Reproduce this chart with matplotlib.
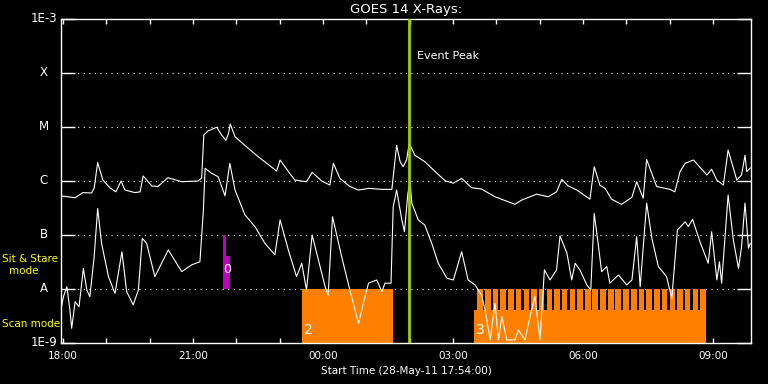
import matplotlib
matplotlib.use('Agg')
import matplotlib.pyplot as plt
import matplotlib.transforms as mtransforms
import numpy as np

# hours since 18:00 on 28-May-11, flux in W/m^2
long_t = [-0.05, 0.28, 0.46, 0.66, 0.72, 0.80, 0.92, 1.09, 1.22, 1.34, 1.43, 1.66, 1.78, 1.85,
          2.05, 2.19, 2.42, 2.74, 3.12, 3.20, 3.25, 3.35, 3.55, 3.66, 3.76, 3.82, 3.86, 3.97,
          4.28, 4.51, 4.70, 4.93, 5.01, 5.20, 5.35, 5.62, 5.75, 5.97, 6.16, 6.24, 6.39, 6.62,
          6.82, 7.05, 7.36, 7.59, 7.70, 7.78, 7.85, 7.93, 7.99, 8.12, 8.35, 8.59, 8.82, 9.01,
          9.20, 9.43, 9.66, 9.97, 10.43, 10.59, 10.93, 11.20, 11.39, 11.51, 11.66, 11.86, 12.16,
          12.26, 12.39, 12.51, 12.66, 12.89, 13.13, 13.24, 13.39, 13.47, 13.70, 14.01, 14.12,
          14.24, 14.36, 14.55, 14.86, 14.97, 15.09, 15.24, 15.35, 15.55, 15.66, 15.74, 15.78, 15.86]
long_f = [5.3e-7, 4.9e-7, 6.1e-7, 6.0e-7, 7.4e-7, 2.2e-6, 1.04e-6, 7.4e-7, 6.3e-7, 1.0e-6, 6.8e-7,
          6.1e-7, 6.3e-7, 1.24e-6, 8.1e-7, 7.9e-7, 1.15e-6, 9.7e-7, 1.0e-6, 1.14e-6, 7.1e-6, 8.5e-6,
          9.9e-6, 7.1e-6, 5.7e-6, 7.6e-6, 1.14e-5, 6.6e-6, 4.0e-6, 2.8e-6, 2.13e-6, 1.53e-6, 2.45e-6,
          1.5e-6, 1.04e-6, 9.7e-7, 1.45e-6, 1.0e-6, 8.4e-7, 2.13e-6, 1.12e-6, 7.9e-7, 6.8e-7, 7.3e-7,
          7.0e-7, 7.0e-7, 4.6e-6, 2.28e-6, 1.84e-6, 2.45e-6, 5.0e-6, 3.0e-6, 2.28e-6, 1.49e-6, 1.01e-6,
          9.1e-7, 1.12e-6, 7.5e-7, 7.1e-7, 5.1e-7, 3.7e-7, 4.45e-7, 5.7e-7, 5.1e-7, 6.3e-7, 1.07e-6,
          8.1e-7, 6.8e-7, 4.6e-7, 1.84e-6, 8.4e-7, 7.3e-7, 4.6e-7, 3.7e-7, 5.0e-7, 9.7e-7, 4.8e-7,
          2.5e-6, 7.9e-7, 7.0e-7, 6.3e-7, 1.49e-6, 2.13e-6, 2.45e-6, 1.29e-6, 1.65e-6, 1.04e-6, 8.4e-7,
          3.75e-6, 1.04e-6, 1.29e-6, 3.0e-6, 1.49e-6, 1.74e-6]

short_t = [-0.05, 0.01, 0.09, 0.16, 0.20, 0.28, 0.37, 0.47, 0.55, 0.62, 0.72, 0.80, 0.89, 1.05,
           1.20, 1.36, 1.47, 1.62, 1.74, 1.83, 1.93, 2.12, 2.43, 2.74, 2.97, 3.16, 3.24, 3.28,
           3.43, 3.58, 3.74, 3.85, 3.97, 4.20, 4.43, 4.66, 4.89, 5.01, 5.20, 5.39, 5.51, 5.62,
           5.75, 6.05, 6.12, 6.22, 6.43, 6.62, 6.74, 6.82, 6.93, 7.05, 7.24, 7.36, 7.43, 7.57,
           7.62, 7.70, 7.82, 7.88, 7.96, 8.01, 8.05, 8.20, 8.35, 8.51, 8.66, 8.86, 9.01, 9.20,
           9.35, 9.51, 9.66, 9.74, 9.86, 9.97, 10.05, 10.13, 10.24, 10.43, 10.51, 10.66, 10.78,
           10.89, 11.01, 11.11, 11.24, 11.39, 11.47, 11.63, 11.74, 11.82, 11.93, 12.09, 12.18,
           12.26, 12.35, 12.43, 12.55, 12.62, 12.82, 13.01, 13.13, 13.24, 13.32, 13.47, 13.59,
           13.74, 13.93, 14.05, 14.18, 14.36, 14.43, 14.53, 14.70, 14.89, 14.97, 15.09, 15.15,
           15.20, 15.28, 15.35, 15.47, 15.59, 15.66, 15.74, 15.82, 15.86]
short_f = [4.1e-9, 7.2e-9, 1.1e-8, 4.1e-9, 1.87e-9, 5.8e-9, 4.7e-9, 2.4e-8, 9.6e-9, 7.2e-9, 4.0e-8,
           3.1e-7, 7.0e-8, 1.69e-8, 8.3e-9, 4.9e-8, 8.9e-9, 5.1e-9, 9.6e-9, 8.7e-8, 7.0e-8, 1.69e-8,
           5.3e-8, 2.1e-8, 2.8e-8, 3.2e-8, 2.9e-7, 1.72e-6, 1.39e-6, 1.2e-6, 5.3e-7, 2.13e-6, 6.8e-7,
           2.35e-7, 1.43e-7, 7.0e-8, 4.3e-8, 1.9e-7, 5.3e-8, 1.69e-8, 3.0e-8, 9.6e-9, 1.0e-7, 1.1e-8,
           7.7e-9, 2.18e-7, 4.0e-8, 9.6e-9, 4.1e-9, 2.3e-9, 5.4e-9, 1.28e-8, 1.47e-8, 8.9e-9, 1.28e-8,
           1.28e-8, 3.3e-7, 6.8e-7, 1.9e-7, 1.15e-7, 5.9e-7, 9.7e-7, 3.9e-7, 1.9e-7, 1.53e-7, 7.0e-8,
           3.0e-8, 1.58e-8, 1.47e-8, 4.9e-8, 1.47e-8, 1.19e-8, 7.7e-9, 4.1e-9, 1.14e-9, 5.4e-9,
           1.14e-9, 3.1e-9, 1.14e-9, 1.14e-9, 1.74e-9, 1.14e-9, 3.1e-9, 7.2e-9, 1.14e-9, 2.25e-8,
           1.47e-8, 2.25e-8, 9.6e-8, 4.6e-8, 1.47e-8, 3.0e-8, 2.25e-8, 1.19e-8, 9.6e-9, 2.5e-7,
           7.0e-8, 2.1e-8, 2.6e-8, 1.28e-8, 1.82e-8, 1.19e-8, 1.47e-8, 9.3e-8, 1.1e-8, 3.9e-7,
           8.7e-8, 2.6e-8, 1.69e-8, 6.7e-9, 1.24e-7, 1.76e-7, 1.43e-7, 1.95e-7, 7.5e-8, 3.0e-8,
           1.15e-7, 1.47e-8, 3.2e-8, 1.28e-8, 9.3e-8, 5.5e-7, 8.1e-8, 2.4e-8, 6.1e-8, 3.9e-7,
           5.7e-8, 7.0e-8]

peak_t = 7.98

# IRIS rasters: sit & stare (0) and scans (2, 3)
sns_t = [3.69, 3.76, 3.85]
sns_top = [1e-7, 4.1e-8]
scan2 = (5.52, 7.62)
scan3 = (9.49, 14.84)
scan3_base_top = 4.1e-9
scan3_steps = [9.56, 9.74, 9.92, 10.09, 10.27, 10.45, 10.63, 10.80, 10.98, 11.16,
               11.34, 11.51, 11.69, 11.87, 12.05, 12.22, 12.40, 12.58, 12.75, 12.93,
               13.11, 13.29, 13.46, 13.64, 13.82, 14.00, 14.17, 14.35, 14.53, 14.71]
step_w = 0.13

levels = [1e-9, 1e-8, 1e-7, 1e-6, 1e-5, 1e-4, 1e-3]
level_labels = ['1E-9', 'A', 'B', 'C', 'M', 'X', '1E-3']
hour_ticks = list(range(0, 16))

orange = '#ff8000'
magenta = '#c000c0'
green = '#9acd0a'

fig = plt.figure(figsize=(7.68, 3.84), dpi=100, facecolor='black')
ax = fig.add_axes([61/768, 1-343/384, 690/768, 324/384], facecolor='black')
ax.set_yscale('log')
ax.set_xlim(-0.046, 15.878)
ax.set_ylim(1e-9, 1e-3)

# dotted class levels
for lv in levels[1:-1]:
    ax.axhline(lv, color='white', lw=0.8, ls=(0, (1, 4)), zorder=1)

# observation blocks
ax.fill_between(sns_t[:2], 1e-8, sns_top[0], color=magenta, lw=0, zorder=2)
ax.fill_between(sns_t[1:], 1e-8, sns_top[1], color=magenta, lw=0, zorder=2)
ax.fill_between(scan2, 1e-9, 1e-8, color=orange, lw=0, zorder=2)
ax.fill_between(scan3, 1e-9, scan3_base_top, color=orange, lw=0, zorder=2)
for s in scan3_steps:
    ax.fill_between([s, s + step_w], scan3_base_top, 1e-8, color=orange, lw=0, zorder=2)
ax.text(sns_t[1] + 0.02, 2.3e-8, '0', color='white', fontsize=9, ha='center', va='center', zorder=3)
ax.text(scan2[0] + 0.05, 1.3e-9, '2', color='white', fontsize=10, ha='left', va='bottom', zorder=3)
ax.text(scan3[0] + 0.05, 1.3e-9, '3', color='white', fontsize=10, ha='left', va='bottom', zorder=3)

# GOES curves
ax.plot(long_t, long_f, color='white', lw=0.8, zorder=4)
ax.plot(short_t, short_f, color='white', lw=0.8, zorder=4)

# event peak
ax.axvline(peak_t, color=green, lw=2, zorder=5)
ax.text(peak_t + 0.2, 2.1e-4, 'Event Peak', color='white', fontsize=8, ha='left', va='center')

for sp in ax.spines.values():
    sp.set_color('white')
    sp.set_linewidth(1)

ax.set_yticks(levels)
ax.set_yticklabels([])
ax.minorticks_off()
ax.tick_params(axis='y', which='both', direction='in', length=10, width=1, color='white',
               left=True, right=True)
trans = mtransforms.blended_transform_factory(fig.transFigure, ax.transData)
for lv, lab in zip(levels, level_labels):
    if lab.startswith('1E'):
        ax.text(57/768, lv, lab, color='white', fontsize=8.5, ha='right', va='center', transform=trans)
    else:
        ax.text(44/768, lv, lab, color='white', fontsize=8.5, ha='center', va='center', transform=trans)

ax.set_xticks(hour_ticks)
ax.set_xticklabels(['%02d:00' % ((18 + h) % 24) if h % 3 == 0 else '' for h in hour_ticks])
ax.tick_params(axis='x', direction='in', length=3.5, width=1, color='white', top=True,
               labelcolor='white', labelsize=7.5, pad=6)

ax.set_title('GOES 14 X-Rays:', color='white', fontsize=9.5, pad=4)
ax.set_xlabel('Start Time (28-May-11 17:54:00)', color='white', fontsize=7.5, labelpad=3)

fig.text(2/768, 1-259/384, 'Sit & Stare', color='yellow', fontsize=7.5, ha='left', va='center')
fig.text(24/768, 1-271/384, 'mode', color='yellow', fontsize=7.5, ha='center', va='center')
fig.text(2/768, 1-324/384, 'Scan mode', color='yellow', fontsize=7.5, ha='left', va='center')

fig.savefig('out.png', dpi=100, facecolor='black')
